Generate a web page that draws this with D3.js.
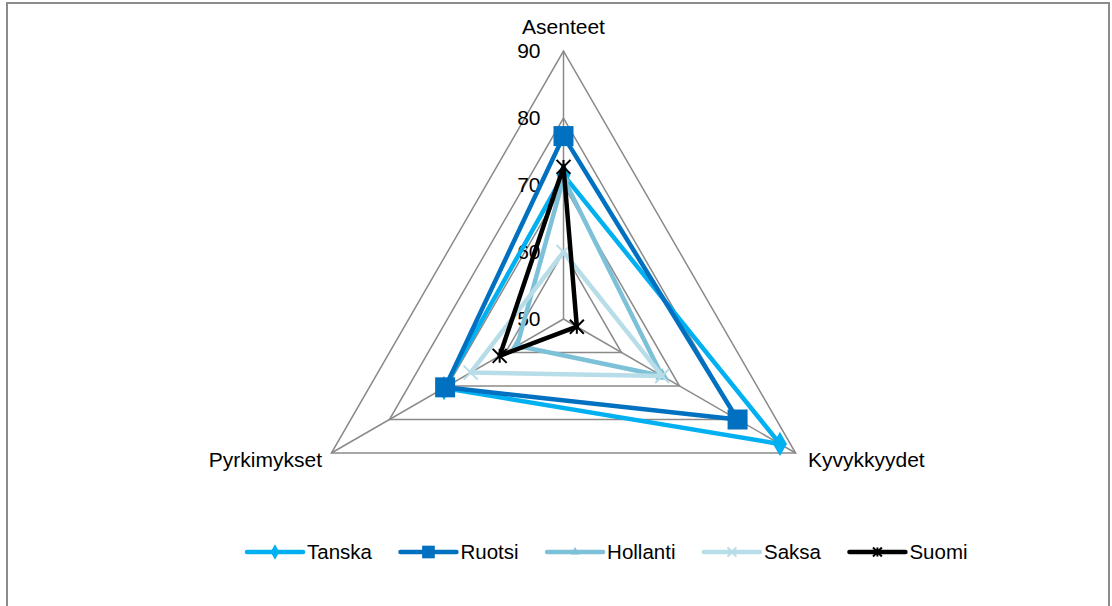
<!DOCTYPE html>
<html>
<head>
<meta charset="utf-8">
<script src="https://cdn.jsdelivr.net/npm/d3@7"></script>
<style>
  body { margin: 0; background: #fff; }
  svg { display: block; font-family: "Liberation Sans", Arial, sans-serif; }
</style>
</head>
<body>
<div id="chart"></div>
<script>
// axes of the radar, clockwise from top
const axes = ["Asenteet", "Kyvykkyydet", "Pyrkimykset"];
const ticks = [50, 60, 70, 80, 90];

const seriesNames = ["Tanska", "Ruotsi", "Hollanti", "Saksa", "Suomi"];
const tanska = [71.5, 87.3, 70.6];
const ruotsi = [77.3, 80.0, 70.4];
const hollanti = [71.0, 67.0, 58.0];
const saksa = [60.0, 67.0, 66.0];
const suomi = [72.7, 52.3, 61.0];

const colors = ["#00b0f0", "#0070c0", "#7dc1d8", "#b7dde8", "#000000"];
const markers = ["diamond", "square", "triangle", "x", "star"];

const width = 1112, height = 606;
const cx = 563.5, cy = 319, radius = 268;

const svg = d3.select("#chart").append("svg")
    .attr("width", width)
    .attr("height", height);

// outer frame
svg.append("rect")
    .attr("x", 7).attr("y", 3)
    .attr("width", 1102).attr("height", 640)
    .attr("fill", "none")
    .attr("stroke", "#8c8c8c")
    .attr("stroke-width", 2);

const r = d3.scaleLinear().domain([50, 90]).range([0, radius]);
const angle = d3.scalePoint().domain(axes).range([0, 2 * Math.PI * 2 / 3]);

function pt(axis, v) {
    const a = angle(axis) - Math.PI / 2;
    return [cx + r(v) * Math.cos(a), cy + r(v) * Math.sin(a)];
}

const g = svg.append("g");

// grid rings
ticks.slice(1).forEach(function (t) {
    g.append("path")
        .attr("d", d3.line()(axes.map(a => pt(a, t))) + "Z")
        .attr("fill", "none")
        .attr("stroke", "#8a8a8a")
        .attr("stroke-width", 1.5);
});

// spokes
axes.forEach(function (a) {
    const p = pt(a, 90);
    g.append("line")
        .attr("x1", cx).attr("y1", cy)
        .attr("x2", p[0]).attr("y2", p[1])
        .attr("stroke", "#8a8a8a")
        .attr("stroke-width", 1.5);
});

// tick labels
ticks.forEach(function (t) {
    const p = pt(axes[0], t);
    g.append("text")
        .attr("x", p[0] - 23).attr("y", p[1])
        .attr("dy", "0.35em")
        .attr("text-anchor", "end")
        .style("font-size", "21px")
        .text(t);
});

// axis titles
const titlePos = [
    { x: cx, y: 27, anchor: "middle" },
    { x: 808, y: 460, anchor: "start" },
    { x: 322, y: 460, anchor: "end" }
];
axes.forEach(function (a, i) {
    g.append("text")
        .attr("x", titlePos[i].x).attr("y", titlePos[i].y)
        .attr("dy", "0.35em")
        .attr("text-anchor", titlePos[i].anchor)
        .style("font-size", "21px")
        .text(a);
});

function drawMarker(sel, type, color, x, y, scale) {
    scale = scale || 1;
    if (type === "diamond") {
        sel.append("path").attr("d", d3.symbol(d3.symbolDiamond, 170 * scale)())
            .attr("transform", `translate(${x},${y})`).attr("fill", color);
    } else if (type === "square") {
        sel.append("path").attr("d", d3.symbol(d3.symbolSquare, 400 * scale)())
            .attr("transform", `translate(${x},${y})`).attr("fill", color);
    } else if (type === "triangle") {
        sel.append("path").attr("d", d3.symbol(d3.symbolTriangle, 80 * scale)())
            .attr("transform", `translate(${x},${y})`).attr("fill", color);
    } else if (type === "x") {
        const s = 7 * Math.sqrt(scale);
        sel.append("path")
            .attr("d", `M${-s},${-s}L${s},${s}M${-s},${s}L${s},${-s}`)
            .attr("transform", `translate(${x},${y})`)
            .attr("stroke", color).attr("stroke-width", 2).attr("fill", "none");
    } else {
        const s = 7 * Math.sqrt(scale);
        sel.append("path")
            .attr("d", `M${-s},${-s}L${s},${s}M${-s},${s}L${s},${-s}M0,${-s}L0,${s}`)
            .attr("transform", `translate(${x},${y})`)
            .attr("stroke", color).attr("stroke-width", 2).attr("fill", "none");
    }
}

const allData = [tanska, ruotsi, hollanti, saksa, suomi];

allData.forEach(function (vals, i) {
    const pts = axes.map((a, j) => pt(a, vals[j]));
    const s = g.append("g");
    s.append("path")
        .attr("d", d3.line()(pts) + "Z")
        .attr("fill", "none")
        .attr("stroke", colors[i])
        .attr("stroke-width", 4.5)
        .attr("stroke-linejoin", "round");
    pts.forEach(function (p) {
        drawMarker(s, markers[i], colors[i], p[0], p[1]);
    });
});

// legend
const legend = svg.append("g");
let lx = 247;
const ly = 552;
seriesNames.forEach(function (name, i) {
    legend.append("line")
        .attr("x1", lx).attr("x2", lx + 56)
        .attr("y1", ly).attr("y2", ly)
        .attr("stroke", colors[i])
        .attr("stroke-width", 4.5)
        .attr("stroke-linecap", "round");
    drawMarker(legend, markers[i], colors[i], lx + 28, ly, 0.4);
    const t = legend.append("text")
        .attr("x", lx + 60).attr("y", ly)
        .attr("dy", "0.35em")
        .style("font-size", "20.5px")
        .text(name);
    lx = lx + 60 + t.node().getComputedTextLength() + 28.5;
});
</script>
</body>
</html>
